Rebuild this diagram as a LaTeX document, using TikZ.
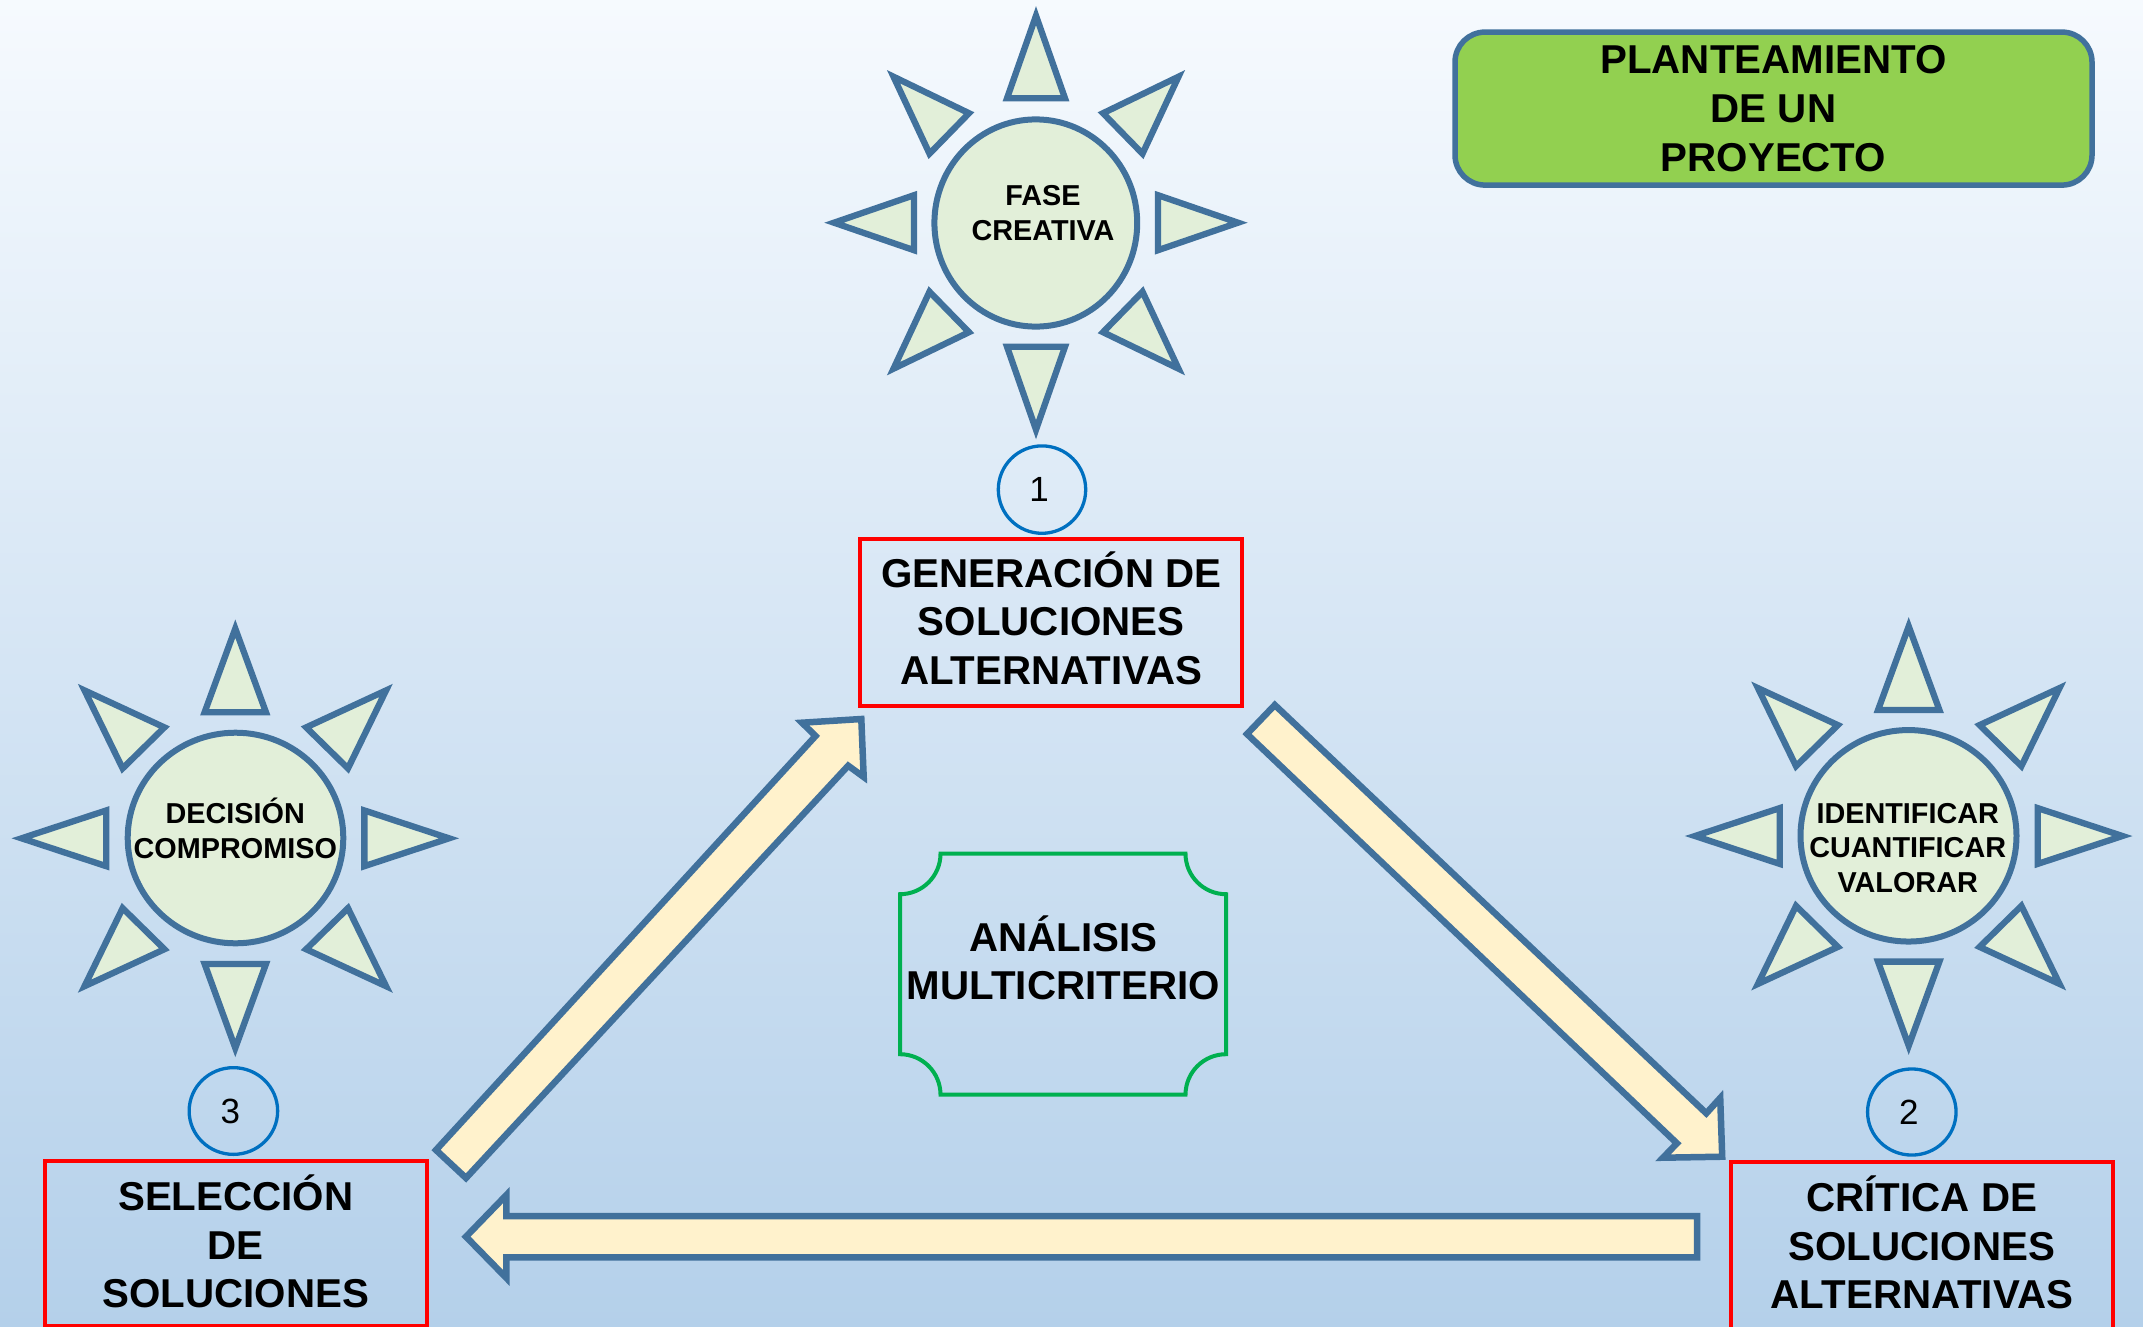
\documentclass[tikz,border=0pt]{standalone}
\usepackage{fontspec}
\setmainfont{Liberation Sans}
\usetikzlibrary{shapes.geometric}
\definecolor{edgeblue}{HTML}{41719C}
\definecolor{raysfill}{HTML}{E2EFD9}
\definecolor{arrowfill}{HTML}{FFF2CC}
\definecolor{numblue}{HTML}{0070C0}
\definecolor{titlegreen}{HTML}{92D050}
\definecolor{plaquegreen}{HTML}{00B050}
\definecolor{bgtop}{HTML}{F6FAFE}
\definecolor{bgbottom}{HTML}{B4D0EA}
% balance struts: make accented first line and last line symmetric about the caps
\newcommand\toph{\rule{0pt}{38pt}}
\newcommand\both{\rule[-9.4pt]{0pt}{0pt}}
\newcommand\tops{\rule{0pt}{28pt}}
\newcommand\bots{\rule[-6.9pt]{0pt}{0pt}}
\tikzset{
  ray/.style={draw=edgeblue,line width=6.3pt,fill=raysfill,miter limit=10},
  suncircle/.style={ellipse,draw=edgeblue,line width=6pt,fill=raysfill,inner sep=0pt},
  suntext/.style={font=\bfseries\fontsize{28.8}{34.6}\selectfont,align=center,inner sep=0pt,text=black},
  redbox/.style={rectangle,draw=red,line width=4pt,inner sep=0pt,align=center,text=black,
    font=\bfseries\fontsize{40.3}{48.5}\selectfont},
  numcircle/.style={ellipse,draw=numblue,line width=3.3pt,inner sep=0pt,text=black,
    font=\fontsize{35}{40}\selectfont},
  blockarrow/.style={draw=edgeblue,line width=6.5pt,fill=arrowfill,miter limit=10},
  titlebox/.style={rectangle,rounded corners=30pt,draw=edgeblue,line width=5.5pt,fill=titlegreen,
    inner sep=0pt,align=center,text=black,font=\bfseries\fontsize{40.3}{48.6}\selectfont},
  plaqueline/.style={draw=plaquegreen,line width=4pt},
  plaquetext/.style={font=\bfseries\fontsize{40.3}{48.3}\selectfont,align=center,inner sep=0pt,text=black}
}
\newcommand\sunrays[4]{%
  \begin{scope}[shift={(#1,#2)},xscale=#3,yscale=#4]
    \draw[ray] (0,-207) -- (-29,-124.4) -- (29,-124.4) -- cycle;
    \draw[ray] (0,207) -- (-29,124) -- (29,124) -- cycle;
    \draw[ray] (-202,0) -- (-122,-27.5) -- (-122,27.5) -- cycle;
    \draw[ray] (202,0) -- (122,-27.5) -- (122,27.5) -- cycle;
    \draw[ray] (142.5,-146) -- (67,-109.5) -- (106.5,-69) -- cycle;
    \draw[ray] (-142.5,-146) -- (-67,-109.5) -- (-106.5,-69) -- cycle;
    \draw[ray] (142.5,146) -- (67,109.5) -- (106.5,69) -- cycle;
    \draw[ray] (-142.5,146) -- (-67,109.5) -- (-106.5,69) -- cycle;
  \end{scope}}
\begin{document}
\begin{tikzpicture}[x=1pt,y=-1pt]
\useasboundingbox (0,0) rectangle (2143,1327);
\shade[top color=bgtop,bottom color=bgbottom] (0,0) rectangle (2143,1327);

% title
\node[titlebox,minimum width=637pt,minimum height=153pt] (title) at (1773.5,108.6)
  {PLANTEAMIENTO\\DE UN\\PROYECTO};

% suns
\sunrays{1036}{222.7}{1}{1}
\node[suncircle,minimum width=202.8pt,minimum height=207.2pt] (sunA) at (1035.8,223) {};
\node[suntext] (sunAtext) at (1043,213) {FASE\\CREATIVA};

\sunrays{1908.7}{836}{1.058}{1.013}
\node[suncircle,minimum width=216pt,minimum height=211.5pt] (sunB) at (1908.5,835.8) {};
\node[suntext] (sunBtext) at (1907.7,848) {IDENTIFICAR\\CUANTIFICAR\\VALORAR};

\sunrays{235.3}{838.3}{1.058}{1.013}
\node[suncircle,minimum width=215.6pt,minimum height=210.6pt] (sunC) at (235.5,838) {};
\node[suntext] (sunCtext) at (235.3,830.2) {\tops DECISIÓN\\COMPROMISO\bots};

% numbers
\node[numcircle,minimum width=87.4pt,minimum height=87.4pt] (numA) at (1042,489.6) {\hspace*{-6pt}1};
\node[numcircle,minimum width=88.5pt,minimum height=86.1pt] (numB) at (1911.8,1112) {\hspace*{-6pt}2};
\node[numcircle,minimum width=88.5pt,minimum height=86.7pt] (numC) at (233.4,1111) {\hspace*{-6pt}3};

% red boxes
\node[redbox,minimum width=382.5pt,minimum height=166.6pt] (gen) at (1051.2,622.3)
  {\rule{0pt}{36pt}GENERACIÓN DE\\SOLUCIONES\\ALTERNATIVAS\both};
\node[redbox,minimum width=382.7pt,minimum height=166.6pt] (crit) at (1921.85,1245.7)
  {\toph CRÍTICA DE\\SOLUCIONES\\ALTERNATIVAS\both};
\node[redbox,minimum width=382.3pt,minimum height=165.5pt] (sel) at (235.75,1243.7)
  {\rule{0pt}{40pt}SELECCIÓN\\DE\\SOLUCIONES\both};

% block arrows
\draw[blockarrow] (436,1150) -- (815.5,736) -- (802,722.7) -- (861.3,719) -- (863.7,777)
  -- (848.2,765.7) -- (466,1178) -- cycle;
\draw[blockarrow] (1274.8,705) -- (1706.3,1113.3) -- (1720.2,1098) -- (1722.2,1156.7)
  -- (1663,1157.7) -- (1676.9,1143.3) -- (1247,734) -- cycle;
\draw[blockarrow] (1697,1216) -- (506.4,1216) -- (506.4,1195) -- (466,1236.7)
  -- (506.4,1278) -- (506.4,1257.3) -- (1697,1257.3) -- cycle;

% central plaque
\draw[plaqueline] (940.5,853.7) -- (1185.5,853.7)
  .. controls (1185.5,876) and (1203.6,894.2) .. (1226,894.2) -- (1226,1054.2)
  .. controls (1203.6,1054.2) and (1185.5,1072.4) .. (1185.5,1094.7) -- (940.5,1094.7)
  .. controls (940.5,1072.4) and (922.4,1054.2) .. (900,1054.2) -- (900,894.2)
  .. controls (922.4,894.2) and (940.5,876) .. (940.5,853.7) -- cycle;
\node[plaquetext] (plaque) at (1063.3,961.5) {\toph ANÁLISIS\\MULTICRITERIO\both};
\end{tikzpicture}
\end{document}
